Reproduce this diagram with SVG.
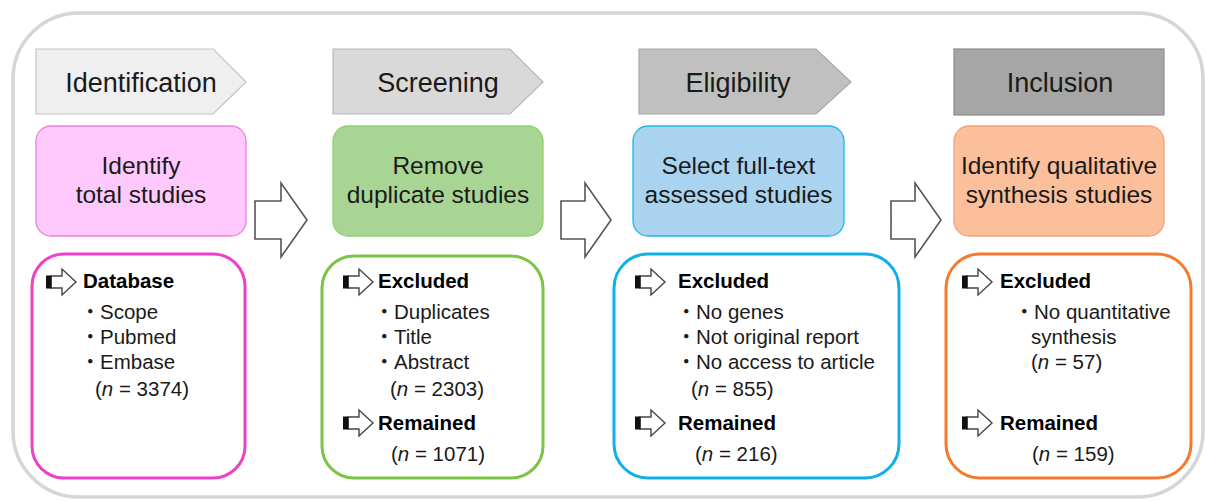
<svg xmlns="http://www.w3.org/2000/svg" width="1206" height="501" viewBox="0 0 1206 501">
<defs>
<style>
text{font-family:"Liberation Sans",Arial,sans-serif;fill:#1a1a1a}
.hd{font-size:27px;text-anchor:middle}
.bx{font-size:24.5px;text-anchor:middle}
.b{font-size:20.5px;font-weight:bold;fill:#000}
.t{font-size:20.5px;fill:#1a1a1a}
.dot{font-family:"Liberation Sans","Noto Sans CJK JP",sans-serif}
.big{fill:#fff;stroke:#555;stroke-width:1.6;stroke-linejoin:miter}
.ico{fill:#fff;stroke:#444;stroke-width:1.4}
</style>
<g id="icon">
<path class="ico" d="M5,-6 H16 V-13 L30,0 L16,13 V6 H5 Z"/>
<rect x="0" y="-6.5" width="5.5" height="13" fill="#111"/>
</g>
</defs>
<rect width="1206" height="501" fill="#fff"/>
<rect id="frame" x="13" y="13" width="1190" height="484" rx="66" fill="none" stroke="#d6d6d6" stroke-width="3.5"/>

<g id="headers">
<g id="h-identification">
<path d="M36,49 H213 L246,82 L213,114 H36 Z" fill="#efefef" stroke="#c4c4c4" stroke-width="1.2"/>
<text class="hd" x="141" y="92">Identification</text>
</g>
<g id="h-screening">
<path d="M333,49 H510 L543,82 L510,114 H333 Z" fill="#d9d9d9" stroke="#b8b8b8" stroke-width="1.2"/>
<text class="hd" x="438" y="92">Screening</text>
</g>
<g id="h-eligibility">
<path d="M639,49 H816 L851,82 L816,114 H639 Z" fill="#c0c0c0" stroke="#a8a8a8" stroke-width="1.2"/>
<text class="hd" x="738" y="92">Eligibility</text>
</g>
<g id="h-inclusion">
<rect x="954" y="49" width="210" height="66" fill="#a6a6a6" stroke="#8c8c8c" stroke-width="1.2"/>
<text class="hd" x="1060" y="92">Inclusion</text>
</g>
</g>

<g id="step-identify">
<rect x="36" y="126" width="210" height="110" rx="15" fill="#ffc9fd" stroke="#f07fd8" stroke-width="1.3"/>
<text class="bx" x="141" y="174">Identify</text>
<text class="bx" x="141" y="203">total studies</text>
</g>
<g id="step-remove">
<rect x="333" y="126" width="210" height="110" rx="15" fill="#a9d594" stroke="#8fd06e" stroke-width="1.3"/>
<text class="bx" x="438" y="174">Remove</text>
<text class="bx" x="438" y="203">duplicate studies</text>
</g>
<g id="step-select">
<rect x="633" y="126" width="211" height="110" rx="15" fill="#a9d3ee" stroke="#1cb8e6" stroke-width="1.3"/>
<text class="bx" x="738.5" y="174">Select full-text</text>
<text class="bx" x="738.5" y="203">assessed studies</text>
</g>
<g id="step-qualitative">
<rect x="954" y="126" width="210" height="110" rx="15" fill="#fbbf9b" stroke="#f5a27a" stroke-width="1.3"/>
<text class="bx" x="1059" y="174">Identify qualitative</text>
<text class="bx" x="1059" y="203">synthesis studies</text>
</g>

<g id="connectors">
<path class="big" d="M255,201 H281 V183 L307,220 L281,257 V239 H255 Z"/>
<path class="big" d="M561,201 H585 V183 L611,220 L585,257 V239 H561 Z"/>
<path class="big" d="M891,201 H915 V183 L941,220 L915,257 V239 H891 Z"/>
</g>

<g id="box-database">
<rect x="32" y="254" width="213" height="224" rx="32" fill="#fff" stroke="#f040c8" stroke-width="3"/>
<use href="#icon" x="46" y="282"/>
<text class="b" x="83" y="288">Database</text>
<text class="t dot" x="80" y="319">・<tspan x="100">Scope</tspan></text>
<text class="t dot" x="80" y="344">・<tspan x="100">Pubmed</tspan></text>
<text class="t dot" x="80" y="369">・<tspan x="100">Embase</tspan></text>
<text class="t" x="95" y="396">(<tspan font-style="italic">n</tspan> = 3374)</text>
</g>

<g id="box-screening">
<rect x="322" y="256" width="221" height="222" rx="32" fill="#fff" stroke="#7cc444" stroke-width="3"/>
<use href="#icon" x="343" y="282"/>
<text class="b" x="378" y="288">Excluded</text>
<text class="t dot" x="374" y="319">・<tspan x="394">Duplicates</tspan></text>
<text class="t dot" x="374" y="344">・<tspan x="394">Title</tspan></text>
<text class="t dot" x="374" y="369">・<tspan x="394">Abstract</tspan></text>
<text class="t" x="390" y="396">(<tspan font-style="italic">n</tspan> = 2303)</text>
<use href="#icon" x="343" y="423"/>
<text class="b" x="378" y="430">Remained</text>
<text class="t" x="391" y="461">(<tspan font-style="italic">n</tspan> = 1071)</text>
</g>

<g id="box-eligibility">
<rect x="614" y="254" width="285" height="224" rx="34" fill="#fff" stroke="#0fb0e8" stroke-width="3"/>
<use href="#icon" x="635" y="282"/>
<text class="b" x="678" y="288">Excluded</text>
<text class="t dot" x="676" y="319">・<tspan x="696">No genes</tspan></text>
<text class="t dot" x="676" y="344">・<tspan x="696">Not original report</tspan></text>
<text class="t dot" x="676" y="369">・<tspan x="696">No access to article</tspan></text>
<text class="t" x="691" y="396">(<tspan font-style="italic">n</tspan> = 855)</text>
<use href="#icon" x="635" y="423"/>
<text class="b" x="678" y="430">Remained</text>
<text class="t" x="695" y="461">(<tspan font-style="italic">n</tspan> = 216)</text>
</g>

<g id="box-inclusion">
<rect x="946" y="254" width="245" height="224" rx="34" fill="#fff" stroke="#f47a2e" stroke-width="3"/>
<use href="#icon" x="962" y="282"/>
<text class="b" x="1000" y="288">Excluded</text>
<text class="t dot" x="1014" y="319">・<tspan x="1034">No quantitative</tspan></text>
<text class="t" x="1031" y="344">synthesis</text>
<text class="t" x="1031" y="369">(<tspan font-style="italic">n</tspan> = 57)</text>
<use href="#icon" x="962" y="423"/>
<text class="b" x="1000" y="430">Remained</text>
<text class="t" x="1032" y="461">(<tspan font-style="italic">n</tspan> = 159)</text>
</g>
</svg>
